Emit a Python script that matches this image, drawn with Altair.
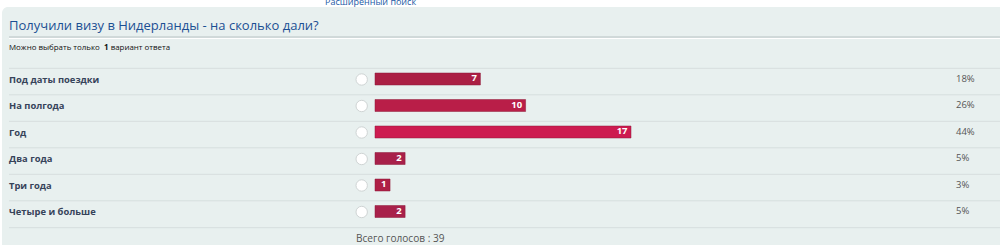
import altair as alt
import pandas as pd

options = ["Под даты поездки", "На полгода", "Год", "Два года", "Три года", "Четыре и больше"]
votes = [7, 10, 17, 2, 1, 2]
percents = ["18%", "26%", "44%", "5%", "3%", "5%"]
bar_colors = ["#ab1f44", "#b91e48", "#cd1b50", "#a8204a", "#ae1f46", "#a8204a"]
title_text = "Получили визу в Нидерланды - на сколько дали?"
hint_parts = ["Можно выбрать только", "1", "вариант ответа"]
total_text = "Всего голосов : 39"
link_text = "Расширенный поиск"

df = pd.DataFrame({"option": options, "votes": votes, "pct": percents})
one = pd.DataFrame({"k": [0]})

FONT = "Open Sans"
yscale = alt.Scale(type="point", domain=options, range=[79, 211.5], padding=0)
xscale = alt.Scale(domain=[0, 17], range=[375, 631], zero=True, nice=False)
cscale = alt.Scale(domain=options, range=bar_colors)

base = alt.Chart(df)
single = alt.Chart(one)
Y = alt.Y("option:N", scale=yscale, axis=None)

panel = single.mark_rect(color="#e8f0ef", cornerRadiusTopLeft=6).encode(
    x=alt.value(2), x2=alt.value(1010), y=alt.value(7), y2=alt.value(260)
)
link = single.mark_text(text=link_text, align="left", baseline="alphabetic", fontSize=9,
                        font=FONT, color="#1c5aa6").encode(x=alt.value(325), y=alt.value(4.5))
title = single.mark_text(text=title_text, align="left", baseline="alphabetic", fontSize=13.0,
                         font=FONT, color="#1b4f93").encode(x=alt.value(9), y=alt.value(29.5))
title_line = single.mark_rule(color="#c9d2d2", strokeWidth=1.5).encode(
    x=alt.value(9), x2=alt.value(1000), y=alt.value(37))
title_line2 = single.mark_rule(color="#ffffff", strokeWidth=1).encode(
    x=alt.value(9), x2=alt.value(1000), y=alt.value(38.5))
hint1 = single.mark_text(text=hint_parts[0], align="left", baseline="alphabetic", fontSize=7.9,
                         font=FONT, color="#111111").encode(x=alt.value(9), y=alt.value(50.3))
hint2 = single.mark_text(text=hint_parts[1], align="left", baseline="alphabetic", fontSize=7.9,
                         font=FONT, fontWeight="bold", color="#111111").encode(x=alt.value(104), y=alt.value(50.3))
hint3 = single.mark_text(text=hint_parts[2], align="left", baseline="alphabetic", fontSize=7.9,
                         font=FONT, color="#111111").encode(x=alt.value(110.7), y=alt.value(50.3))

seps = base.mark_rule(color="#d6dede", strokeWidth=1, yOffset=-10.7).encode(
    x=alt.value(9), x2=alt.value(1000), y=Y)
last_sep = single.mark_rule(color="#d6dede", strokeWidth=1).encode(
    x=alt.value(9), x2=alt.value(1000), y=alt.value(227.7))

labels = base.mark_text(align="left", baseline="alphabetic", fontSize=9.4, fontWeight="bold",
                        font=FONT, color="#36435a", dy=3.7).encode(
    x=alt.value(9), y=Y, text="option:N")
radios = base.mark_point(shape="circle", filled=True, size=130, color="#ffffff",
                         stroke="#cfd4d4", strokeWidth=1, opacity=1, yOffset=0.5).encode(
    x=alt.value(361.7), y=Y)
bars = base.mark_bar(size=12, stroke="#8e1a38", strokeWidth=0.5).encode(
    x=alt.X("votes:Q", scale=xscale, axis=None), y=Y,
    color=alt.Color("option:N", scale=cscale, legend=None))
bar_text = base.mark_text(align="right", baseline="alphabetic", fontSize=9.5, fontWeight="bold",
                          font=FONT, color="#ffffff", dx=-3.5, dy=2).encode(
    x=alt.X("votes:Q", scale=xscale), y=Y, text="votes:Q")
pct = base.mark_text(align="left", baseline="alphabetic", fontSize=9.5, font=FONT,
                     color="#555555", dy=2.7).encode(x=alt.value(956), y=Y, text="pct:N")
total = single.mark_text(text=total_text, align="left", baseline="alphabetic", fontSize=10.1,
                         font=FONT, color="#555555").encode(x=alt.value(356), y=alt.value(242))

chart = alt.layer(
    panel, link, title, title_line, title_line2, hint1, hint2, hint3,
    seps, last_sep, labels, radios, bars, bar_text, pct, total
).properties(
    width=1000, height=245, padding=0, background="#ffffff",
    autosize=alt.AutoSizeParams(type="none")
).configure_view(stroke=None)

chart.save("out.html", embed_options={"renderer": "svg", "actions": False})
